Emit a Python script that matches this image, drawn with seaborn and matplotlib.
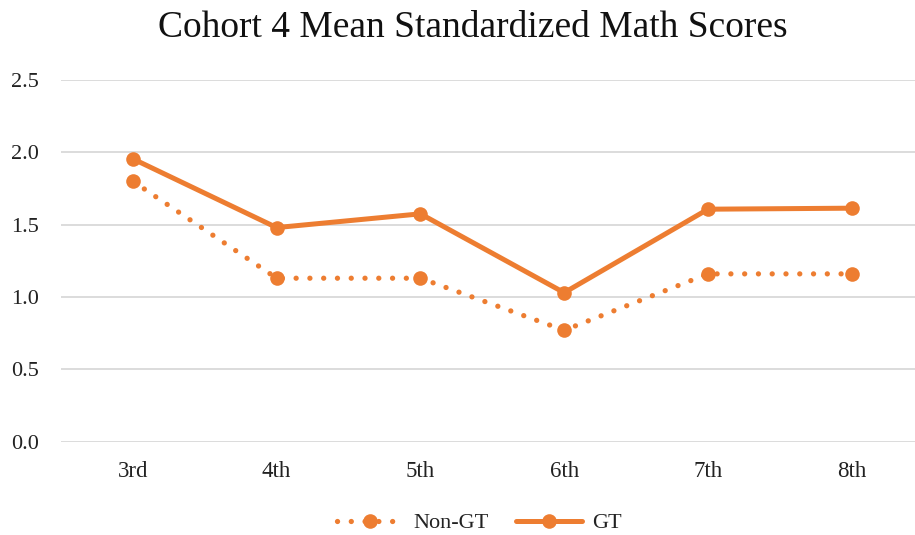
import matplotlib
matplotlib.use("Agg")
import matplotlib.pyplot as plt
import seaborn as sns
import pandas as pd

grades = ["3rd", "4th", "5th", "6th", "7th", "8th"]
non_gt = [1.80, 1.13, 1.13, 0.77, 1.16, 1.16]
gt = [1.955, 1.48, 1.575, 1.03, 1.607, 1.614]
yticks = [0.0, 0.5, 1.0, 1.5, 2.0, 2.5]
title = "Cohort 4 Mean Standardized Math Scores"

sns.set_theme(style="white")
plt.rcParams['font.family'] = ['Liberation Serif', 'DejaVu Serif']

color = "#ED7D31"
fig = plt.figure(figsize=(9.15, 5.35), dpi=100)
ax = fig.add_axes([61/915, 93.3/535, 1 - 61/915, (441.7 - 80) / 535])

df_n = pd.DataFrame({"x": range(len(grades)), "y": non_gt})
df_g = pd.DataFrame({"x": range(len(grades)), "y": gt})

sns.lineplot(data=df_n, x="x", y="y", ax=ax, color=color, linewidth=3.8,
             marker="o", markersize=10.5, markeredgewidth=0,
             linestyle=(0, (0.01, 2.6)), dash_capstyle="round", label="Non-GT")
sns.lineplot(data=df_g, x="x", y="y", ax=ax, color=color, linewidth=3.6,
             marker="o", markersize=10.5, markeredgewidth=0,
             solid_capstyle="round", label="GT")

ax.set_xlim(-0.5, 5.44)
ax.set_ylim(0, 2.5)
ax.set_yticks(yticks)
ax.set_yticklabels([f"{v:.1f}" for v in yticks], fontsize=16, color="#222222")
ax.set_xticks(range(len(grades)))
ax.set_xticklabels(grades, fontsize=16.5, color="#222222")
ax.tick_params(axis="x", length=0, pad=14)
ax.tick_params(axis="y", length=0, pad=16)
ax.grid(axis="y", color="#D9D9D9", linewidth=1.3)
ax.grid(axis="x", visible=False)
for s in ax.spines.values():
    s.set_visible(False)
ax.set_xlabel("")
ax.set_ylabel("")

fig.text(473/915, 1 - 28/535, title, fontsize=27, color="#111111",
         ha="center", va="center")

leg = ax.legend(loc="center", bbox_to_anchor=(0.49, -0.225), ncol=2,
                frameon=False, fontsize=16, handlelength=3.0, columnspacing=1.2,
                handletextpad=0.45)
for t in leg.get_texts():
    t.set_color("#222222")

fig.savefig("out.png", dpi=100)
